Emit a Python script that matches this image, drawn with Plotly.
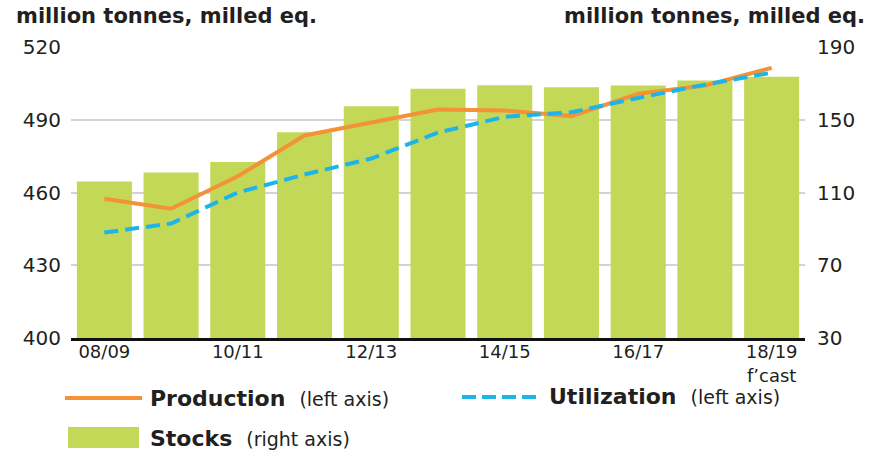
import plotly.graph_objects as go

# ---- data ----
seasons = ["08/09", "09/10", "10/11", "11/12", "12/13", "13/14",
           "14/15", "15/16", "16/17", "17/18", "18/19"]
production = [457.4, 453.3, 466.7, 483.5, 488.9, 494.2, 493.8, 491.5, 500.7, 504.1, 511.4]
utilization = [443.5, 447.2, 460.0, 467.4, 474.0, 484.7, 491.2, 493.1, 499.0, 504.5, 509.4]
stocks = [116.1, 121.0, 126.8, 143.1, 157.4, 167.0, 169.0, 167.9, 168.8, 171.6, 173.6]
tick_seasons = ["08/09", "10/11", "12/13", "14/15", "16/17", "18/19"]
tick_labels = ["08/09", "10/11", "12/13", "14/15", "16/17", "18/19<br>f\u2019cast"]
left_ticks = [400, 430, 460, 490, 520]
right_ticks = [30, 70, 110, 150, 190]

ORANGE = "#F39237"
BLUE = "#1DB4E9"
GREEN = "#C4D858"
TEXT = "#231F20"
FONT = "DejaVu Sans"

W, H = 871, 451
L, T = 71, 47
PW, PH = 734, 291
R, B = W - L - PW, H - T - PH


def px(x):
    # page pixel -> paper fraction
    return (x - L) / PW


def py(y):
    return (T + PH - y) / PH


fig = go.Figure()
fig.add_trace(go.Bar(x=seasons, y=stocks, marker=dict(color=GREEN, line=dict(width=0)),
                     yaxis="y", showlegend=False, hoverinfo="skip"))
fig.add_trace(go.Scatter(x=seasons, y=production, mode="lines", yaxis="y2",
                         line=dict(color=ORANGE, width=4), showlegend=False))
fig.add_trace(go.Scatter(x=seasons, y=utilization, mode="lines", yaxis="y2",
                         line=dict(color=BLUE, width=4, dash="14px,7px"), showlegend=False))

fig.update_layout(
    width=W, height=H,
    margin=dict(l=L, r=R, t=T, b=B),
    paper_bgcolor="white", plot_bgcolor="white",
    bargap=0.175,
    font=dict(family=FONT, color=TEXT),
    xaxis=dict(
        type="category", tickmode="array", tickvals=tick_seasons, ticktext=tick_labels,
        showgrid=False, showline=True, linecolor="#111111", linewidth=2.5,
        ticks="", tickfont=dict(family=FONT, size=18, color=TEXT),
        ticklabelstandoff=-4, zeroline=False,
    ),
    yaxis=dict(
        side="right", range=[30, 190], tickmode="array", tickvals=right_ticks,
        showgrid=True, gridcolor="#D3D3D3", gridwidth=1.5, zeroline=False,
        ticks="", tickfont=dict(family=FONT, size=20, color=TEXT), ticklabelstandoff=11,
    ),
    yaxis2=dict(
        overlaying="y", side="left", range=[400, 520], tickmode="array", tickvals=left_ticks,
        showgrid=False, zeroline=False,
        ticks="", tickfont=dict(family=FONT, size=20, color=TEXT), ticklabelstandoff=9,
    ),
)

# axis unit titles
fig.add_annotation(text="million tonnes, milled eq.", xref="paper", yref="paper",
                   x=px(14), y=py(16), xanchor="left", yanchor="middle", showarrow=False,
                   font=dict(family=FONT, size=21, color=TEXT, weight="bold"))
fig.add_annotation(text="million tonnes, milled eq.", xref="paper", yref="paper",
                   x=px(867), y=py(16), xanchor="right", yanchor="middle", showarrow=False,
                   font=dict(family=FONT, size=21, color=TEXT, weight="bold"))

# legend (custom layout)
fig.add_shape(type="line", xref="paper", yref="paper", x0=px(65), x1=px(142), y0=py(398), y1=py(398),
              line=dict(color=ORANGE, width=4))
fig.add_shape(type="line", xref="paper", yref="paper", x0=px(462), x1=px(537), y0=py(397), y1=py(397),
              line=dict(color=BLUE, width=4, dash="14px,6px"))
fig.add_shape(type="rect", xref="paper", yref="paper", x0=px(68), x1=px(139), y0=py(427), y1=py(448),
              line=dict(width=0), fillcolor=GREEN)

legend_items = [
    ("Production", "(left axis)", 148, 398),
    ("Utilization", "(left axis)", 547, 396),
    ("Stocks", "(right axis)", 148, 438),
]
for name, note, x0, y0 in legend_items:
    fig.add_annotation(
        text=f"<b>{name}</b>  <span style='font-size:19px'>{note}</span>",
        xref="paper", yref="paper", x=px(x0), y=py(y0), xanchor="left", yanchor="middle",
        showarrow=False, font=dict(family=FONT, size=22, color=TEXT))

# remove the default page margin so the figure sits at the window's top-left corner
fig.write_html("out.html", config={"displayModeBar": False},
               post_script="document.body.style.margin='0';")
